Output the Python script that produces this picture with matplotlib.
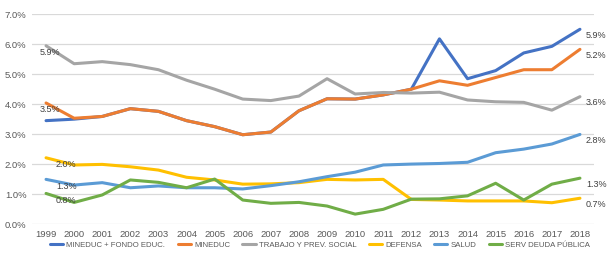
import numpy as np
import matplotlib
matplotlib.use("Agg")
import matplotlib.pyplot as plt
from matplotlib.ticker import PercentFormatter

# data (% of GDP)
years = list(range(1999, 2019))
mineduc_fondo = [3.45, 3.50, 3.59, 3.85, 3.76, 3.45, 3.25, 2.98, 3.07, 3.78,
                 4.18, 4.17, 4.31, 4.50, 6.18, 4.85, 5.12, 5.71, 5.93, 6.50]
mineduc = [4.04, 3.53, 3.59, 3.85, 3.76, 3.45, 3.25, 2.98, 3.07, 3.78,
           4.18, 4.17, 4.31, 4.50, 4.78, 4.63, 4.89, 5.15, 5.15, 5.83]
trabajo = [5.95, 5.35, 5.42, 5.32, 5.15, 4.80, 4.50, 4.17, 4.12, 4.27,
           4.85, 4.34, 4.39, 4.37, 4.40, 4.14, 4.08, 4.06, 3.80, 4.25]
defensa = [2.21, 1.97, 1.99, 1.91, 1.80, 1.56, 1.47, 1.33, 1.34, 1.38,
           1.49, 1.47, 1.49, 0.82, 0.80, 0.77, 0.77, 0.77, 0.71, 0.86]
salud = [1.49, 1.30, 1.38, 1.21, 1.27, 1.21, 1.21, 1.17, 1.28, 1.41,
         1.58, 1.73, 1.97, 2.00, 2.02, 2.06, 2.38, 2.50, 2.67, 2.99]
deuda = [1.02, 0.72, 0.97, 1.47, 1.39, 1.21, 1.50, 0.80, 0.69, 0.72,
         0.60, 0.33, 0.49, 0.83, 0.84, 0.94, 1.36, 0.80, 1.33, 1.53]

names = ["MINEDUC + FONDO EDUC.", "MINEDUC", "TRABAJO Y PREV. SOCIAL",
         "DEFENSA", "SALUD", "SERV DEUDA PÚBLICA"]
series = [mineduc_fondo, mineduc, trabajo, defensa, salud, deuda]
colors = ["#4472C4", "#ED7D31", "#A5A5A5", "#FFC000", "#5B9BD5", "#70AD47"]

# data labels as printed on the chart
first_labels = [None, "3.5%", "5.9%", "2.0%", "1.3%", "0.8%"]
last_labels = ["5.9%", "5.2%", "3.6%", "0.7%", "2.8%", "1.3%"]
first_dx = [0, -6, -6, 10, 10, 10]

txt = "#595959"
plt.rcParams["font.family"] = ["Liberation Sans", "DejaVu Sans"]

fig = plt.figure(figsize=(6.1, 2.65), dpi=100)
ax = fig.add_axes([32 / 610, 1 - 224 / 265, 562 / 610, (224 - 14.3) / 265])

x = np.arange(len(years))
for vals, name, c in zip(series, names, colors):
    ax.plot(x, vals, color=c, lw=2.2, label=name, solid_capstyle="round",
            solid_joinstyle="round")

for vals, lab, dx in zip(series, first_labels, first_dx):
    if lab:
        ax.annotate(lab, (x[0], vals[0]), xytext=(dx, -7), textcoords="offset pixels",
                    fontsize=6.5, color="#404040", va="center", ha="left")
for vals, lab in zip(series, last_labels):
    ax.annotate(lab, (x[-1], vals[-1]), xytext=(6, -6), textcoords="offset pixels",
                fontsize=6.5, color="#404040", va="center", ha="left")

ax.set_xlim(-0.5, len(years) - 0.5)
ax.set_ylim(0, 7)
ax.set_yticks(np.arange(0, 7.01, 1))
ax.yaxis.set_major_formatter(PercentFormatter(decimals=1))
ax.set_xticks(x)
ax.set_xticklabels([str(y) for y in years])
ax.tick_params(length=0, labelsize=6.8, colors=txt, pad=4)
ax.grid(axis="y", color="#D9D9D9", lw=0.9)
ax.set_axisbelow(True)
for s in ax.spines.values():
    s.set_visible(False)

fig.legend(loc="center", bbox_to_anchor=(320 / 610, 1 - 245 / 265),
           ncol=6, frameon=False, labelcolor=txt, fontsize=5.6, handlelength=1.7,
           handletextpad=0.4, columnspacing=1.6)

fig.savefig("out.png", dpi=100)
